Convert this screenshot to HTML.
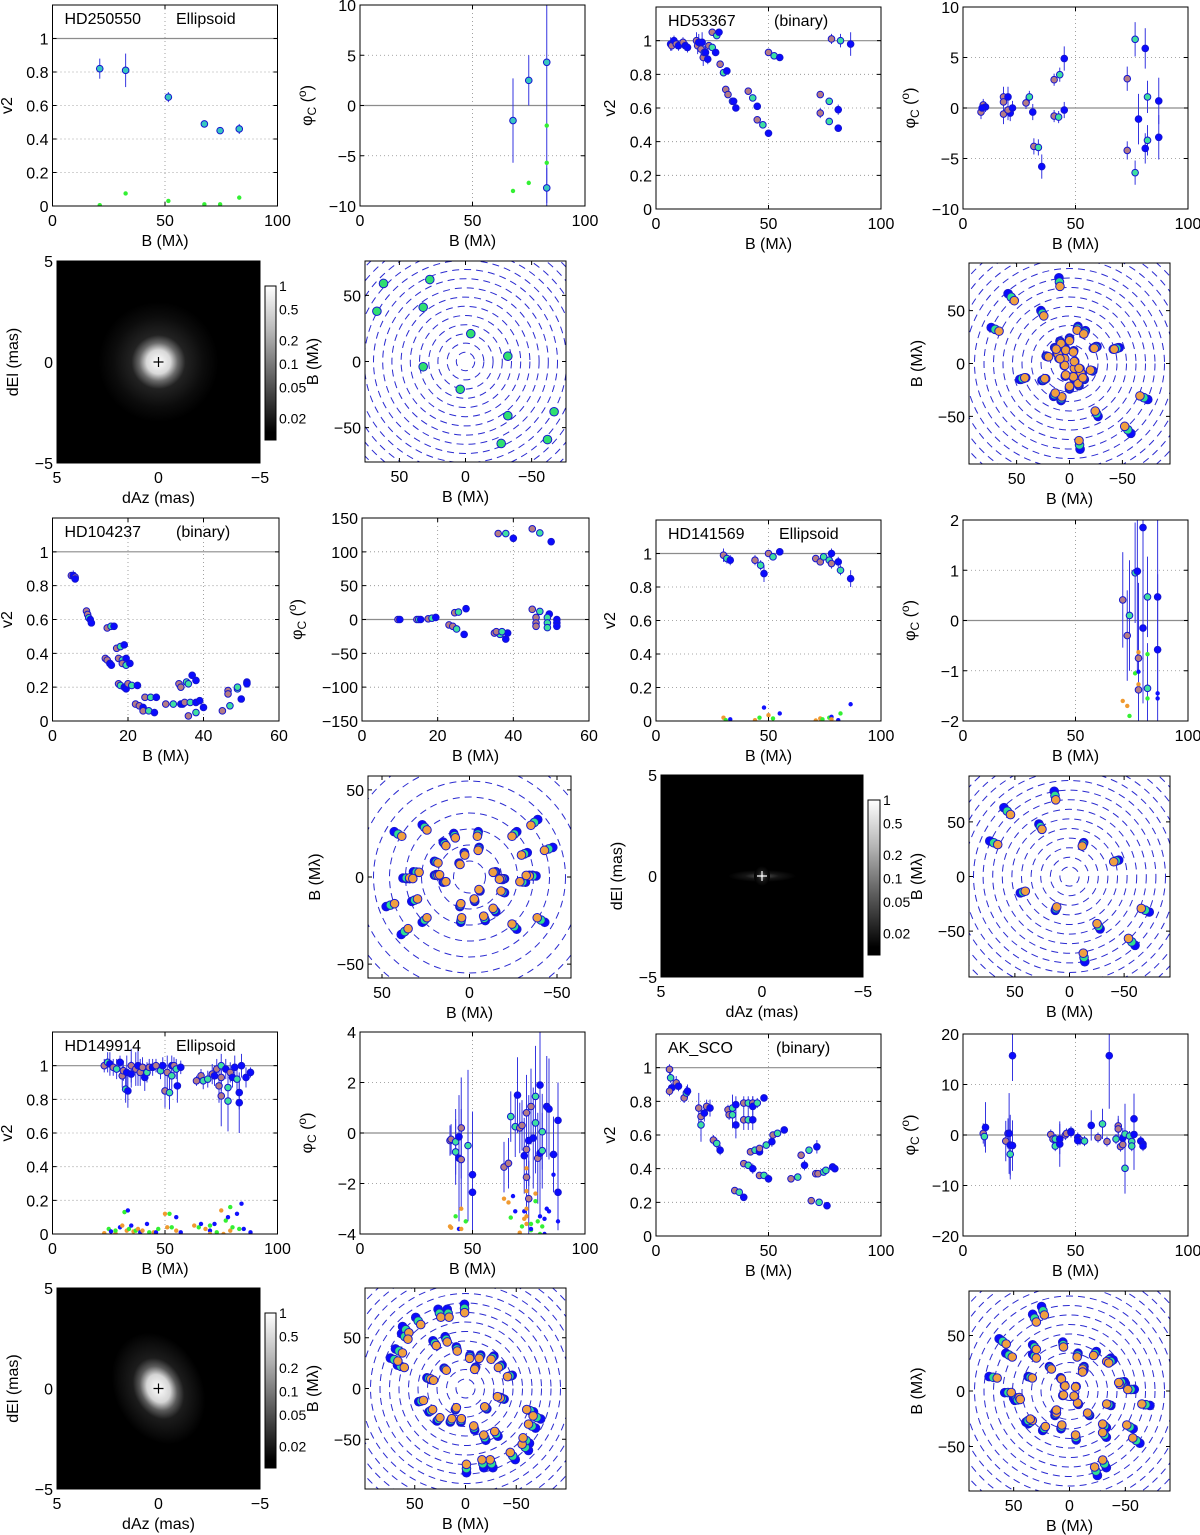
<!DOCTYPE html>
<html><head><meta charset="utf-8">
<style>
html,body{margin:0;padding:0;background:#fff;}
svg{display:block;font-family:"Liberation Sans",Arial,sans-serif;}
</style></head>
<body>
<svg id="fig" width="1200" height="1535" viewBox="0 0 1200 1535" xmlns="http://www.w3.org/2000/svg">
<defs>
<radialGradient id="glowA" cx="0.5" cy="0.5" r="0.5">
<stop offset="0" stop-color="#ffffff"/><stop offset="0.2" stop-color="#d8d8d8"/><stop offset="0.32" stop-color="#6a6a6a"/><stop offset="0.45" stop-color="#222"/><stop offset="0.75" stop-color="#0c0c0c"/><stop offset="1" stop-color="#000"/>
</radialGradient>
<radialGradient id="glowB" cx="0.5" cy="0.5" r="0.5">
<stop offset="0" stop-color="#bbbbbb"/><stop offset="0.15" stop-color="#444"/><stop offset="0.5" stop-color="#151515"/><stop offset="1" stop-color="#000"/>
</radialGradient>
<radialGradient id="glowC" cx="0.5" cy="0.5" r="0.5">
<stop offset="0" stop-color="#ffffff"/><stop offset="0.25" stop-color="#d5d5d5"/><stop offset="0.4" stop-color="#5a5a5a"/><stop offset="0.55" stop-color="#1c1c1c"/><stop offset="0.85" stop-color="#0a0a0a"/><stop offset="1" stop-color="#000"/>
</radialGradient>
<linearGradient id="cbar" x1="0" y1="0" x2="0" y2="1">
<stop offset="0" stop-color="#ffffff"/><stop offset="0.3" stop-color="#b5b5b5"/><stop offset="0.56" stop-color="#6a6a6a"/><stop offset="0.78" stop-color="#2e2e2e"/><stop offset="0.95" stop-color="#000"/><stop offset="1" stop-color="#000"/>
</linearGradient>
</defs>
</svg>
<script>
// ---------------- DATA ----------------
const HD250550_V2=[[21,0.82,0.06,'c'],[32.5,0.81,0.1,'c'],[51.5,0.65,0.03,'c'],[67.5,0.49,0.02,'c'],[74.5,0.45,0.01,'c'],[83,0.46,0.03,'c']];
const HD250550_V2_RES=[[21,0.005,'g'],[32.5,0.075,'g'],[51.5,0.03,'g'],[67.5,0.01,'g'],[74.5,0.01,'g'],[83,0.05,'g']];
const HD250550_CP=[[68,-1.5,4.2,'c'],[75,2.5,2.5,'c'],[83,4.3,14,'c'],[83,-8.2,2,'c']];
const HD250550_CP_RES=[[68,-8.5,'g'],[75,-7.7,'g'],[83,-2,'g'],[83,-5.7,'g']];

const HD53367_V2=[[6.5,0.98,0.04,'b'],[7,0.97,0.03,'p'],[8,1.0,0.03,'b'],[9,0.98,0.03,'p'],[10,0.97,0.03,'b'],[12,0.99,0.03,'p'],[13,0.97,0.03,'b'],[14,0.96,0.03,'b'],
[18,1.0,0.05,'p'],[18.5,0.97,0.05,'p'],[19,0.99,0.05,'b'],[20,0.95,0.06,'p'],[20.5,0.99,0.06,'b'],[21,0.9,0.05,'p'],[21.5,0.93,0.04,'g'],[22,0.93,0.04,'b'],[23,0.89,0.03,'b'],[23.5,0.97,0.02,'p'],[25,0.96,0.02,'g'],[25,1.05,0.02,'p'],[27,1.03,0.02,'g'],[28,1.05,0.02,'b'],[26.5,0.93,0.02,'b'],[28.5,0.86,0.02,'p'],[30,0.81,0.02,'g'],[31.5,0.82,0.02,'b'],[31,0.71,0.02,'p'],[32,0.68,0.02,'p'],[34,0.64,0.02,'g'],[34.5,0.64,0.02,'b'],[35.5,0.6,0.02,'b'],
[41,0.7,0.02,'p'],[43,0.66,0.02,'g'],[45,0.61,0.02,'b'],[45,0.53,0.02,'p'],[47.5,0.5,0.02,'g'],[50,0.45,0.02,'b'],[50,0.93,0.02,'p'],[52.5,0.91,0.02,'g'],[55,0.9,0.02,'b'],
[73,0.68,0.02,'p'],[73,0.57,0.03,'p'],[77,0.64,0.02,'g'],[77,0.52,0.02,'g'],[81,0.59,0.03,'b'],[81,0.48,0.02,'b'],[78,1.01,0.03,'p'],[82,1.0,0.04,'g'],[86.5,0.98,0.07,'b']];
const HD53367_CP=[[8,-0.4,0.7,'p'],[9,0.3,0.6,'p'],[10,0.1,0.5,'b'],[8.5,0.0,0.4,'b'],[18,1.1,1,'p'],[18,0.6,1,'p'],[18,-0.6,1,'p'],[20,1.1,1,'b'],[20,-0.2,1,'b'],[21,-0.5,0.8,'b'],[20,-0.2,0.8,'p'],[22,0,0.7,'b'],[28,0.5,0.6,'p'],[29.5,1.1,0.6,'g'],[31,-0.4,0.8,'b'],
[31.5,-3.8,0.8,'p'],[33.5,-3.9,0.8,'g'],[35,-5.8,1.2,'b'],[40.5,2.8,0.6,'p'],[43,3.3,0.7,'g'],[45,4.9,1.2,'b'],[40.5,-0.8,0.6,'p'],[42.5,-0.9,0.6,'g'],[45,-0.2,0.8,'b'],
[73,2.9,1.2,'p'],[73,-4.2,0.9,'p'],[76.5,6.8,1.7,'g'],[76.5,-6.4,1.2,'g'],[78,-1.1,2.5,'b'],[81,5.9,2,'b'],[81,-4,1.5,'b'],[82,1.1,1.6,'g'],[82,-3.2,1.5,'g'],[87,0.7,2.3,'b'],[87,-2.9,2.2,'b']];

const HD104237_V2=[[5,0.86,0.02,'p'],[5.5,0.86,0.03,'b'],[6,0.85,0.03,'p'],[6,0.84,0.02,'b'],[9,0.65,0.02,'p'],[9.3,0.63,0.02,'p'],[9.6,0.61,0.02,'g'],[10,0.6,0.02,'b'],[10.3,0.58,0.02,'b'],
[14.5,0.55,0.01,'p'],[15.5,0.56,0.01,'g'],[16.3,0.56,0.02,'b'],[17,0.43,0.01,'p'],[18,0.44,0.01,'g'],[19,0.45,0.01,'b'],[14,0.37,0.01,'p'],[14.5,0.36,0.01,'p'],[15.2,0.34,0.01,'b'],[15.6,0.33,0.01,'b'],
[17.5,0.37,0.01,'p'],[18.5,0.36,0.01,'g'],[19.5,0.37,0.01,'b'],[18.5,0.34,0.01,'p'],[19.5,0.33,0.01,'g'],[20.5,0.34,0.01,'b'],[17.5,0.22,0.01,'p'],[18,0.21,0.01,'g'],[19,0.2,0.01,'b'],[19.5,0.19,0.01,'b'],
[20,0.22,0.01,'p'],[21,0.21,0.01,'g'],[22.5,0.21,0.01,'b'],[22,0.1,0.01,'p'],[23,0.09,0.01,'p'],[24,0.08,0.01,'b'],[24,0.06,0.01,'p'],[25.5,0.06,0.01,'g'],[27,0.05,0.01,'b'],[24.5,0.14,0.01,'p'],[26,0.14,0.01,'g'],[27.5,0.14,0.01,'b'],
[30,0.1,0.01,'p'],[32,0.1,0.01,'g'],[34,0.1,0.01,'b'],[34.5,0.1,0.01,'b'],[35,0.11,0.01,'p'],[36.5,0.11,0.01,'g'],[38,0.11,0.01,'b'],[39,0.12,0.01,'b'],
[33.5,0.22,0.01,'p'],[34,0.2,0.01,'p'],[35.5,0.23,0.01,'g'],[36,0.22,0.01,'g'],[37,0.27,0.01,'b'],[38,0.24,0.01,'b'],[36,0.03,0.01,'p'],[38,0.05,0.01,'g'],[40,0.08,0.01,'b'],
[45,0.06,0.01,'p'],[47,0.09,0.01,'g'],[50,0.13,0.01,'b'],[46.5,0.18,0.01,'p'],[46.5,0.16,0.01,'p'],[49,0.19,0.01,'g'],[49,0.2,0.01,'g'],[51.5,0.23,0.01,'b'],[51.5,0.22,0.01,'b']];
const HD104237_CP=[[9.5,0,1,'p'],[10,0,1,'b'],[14.5,0,1,'p'],[15,0,1,'g'],[15.5,0,1,'b'],[17.5,1,1,'p'],[18.5,2,1,'g'],[19.5,3,1,'b'],[24.5,10,1,'p'],[25.5,11,1,'g'],[27.5,16,1,'b'],
[23,-8,1,'p'],[24,-10,1,'p'],[25,-14,1,'g'],[27,-22,1,'b'],[35,-20,1,'p'],[36.5,-22,1,'g'],[38.5,-20,1,'b'],[35.5,-18,1,'p'],[37,-18,1,'g'],[38,-29,1,'b'],
[36,127,1,'p'],[38,127,1,'g'],[40,120,1,'b'],[45,134,1,'p'],[47,128,1,'g'],[50,115,1,'b'],[45,15,1,'p'],[47,12,1,'g'],[49.5,8,1,'b'],
[46,3,1,'p'],[46,-5,1,'p'],[46,-10,1,'p'],[49,3,1,'g'],[49,-5,1,'g'],[49,-12,1,'g'],[51.5,0,1,'b'],[51.5,-5,1,'b'],[51.5,-10,1,'b']];

const HD141569_V2=[[30,0.99,0.04,'p'],[31.5,0.97,0.03,'g'],[33,0.96,0.03,'b'],[44,0.96,0.03,'p'],[46.5,0.93,0.03,'g'],[48,0.88,0.05,'b'],[50,1.0,0.02,'p'],[52,0.98,0.02,'g'],[55,1.01,0.02,'b'],
[71,0.97,0.02,'p'],[73,0.95,0.02,'p'],[74.5,0.98,0.02,'g'],[77,0.96,0.03,'g'],[78,1.0,0.03,'b'],[78,0.94,0.03,'p'],[81,0.95,0.03,'b'],[82,0.9,0.03,'g'],[86.5,0.85,0.05,'b']];
const HD141569_V2_RES=[[30,0.02,'o'],[31,0.005,'g'],[33,0.01,'b'],[44,0.005,'o'],[46,0.02,'g'],[48,0.08,'b'],[50,0.035,'o'],[52,0.015,'g'],[55,0.045,'b'],[71,0.003,'o'],[73,0.015,'o'],[74,0.01,'g'],[77,0.02,'g'],[78,0.025,'b'],[78,0.01,'o'],[81,0.005,'b'],[82,0.045,'g'],[86.5,0.1,'b']];
const HD141569_CP=[[71,0.41,0.95,'p'],[73,-0.3,0.9,'p'],[74,0.1,1.1,'g'],[76.5,0.95,1.0,'g'],[77.5,0.98,2,'b'],[80,1.85,2,'b'],[80,-0.15,1.5,'b'],[78,-0.75,1.5,'p'],[78,-1.38,1.5,'p'],[82,0.47,0.8,'g'],[82,-1.35,0.9,'g'],[86.5,0.47,2,'b'],[86.5,-0.58,1.5,'b']];
const HD141569_CP_RES=[[71,-1.6,'o'],[73,-1.7,'o'],[74,-1.9,'g'],[76.5,-1.05,'g'],[78,-1.02,'b'],[78,-0.63,'o'],[78,-1.27,'o'],[82,-0.67,'g'],[82,-1.55,'g'],[86.5,-1.45,'b'],[86.5,-1.55,'b'],[80,-0.15,'b']];

const HD149914_V2=[[23,1.0,0.04,'p'],[24.5,1.02,0.06,'g'],[25.5,1.01,0.07,'b'],[27,0.99,0.05,'p'],[28.5,0.98,0.06,'g'],[30,1.02,0.04,'b'],[31,0.94,0.07,'p'],[31.5,0.97,0.06,'p'],[32.5,0.86,0.08,'g'],[33.5,0.85,0.1,'b'],[33,0.96,0.1,'b'],[35,1.0,0.1,'p'],[35,0.95,0.08,'b'],[37,0.98,0.1,'p'],[38,1.0,0.12,'b'],[39,0.96,0.08,'p'],[40,0.99,0.06,'p'],[41,0.93,0.08,'b'],[42,0.96,0.06,'g'],[43,0.99,0.05,'p'],[44.5,0.99,0.05,'b'],[46,1.0,0.04,'p'],[48,0.97,0.05,'g'],[49,1.0,0.05,'b'],[50,0.85,0.1,'p'],[51,0.96,0.1,'p'],[52,0.84,0.1,'g'],[53,0.94,0.08,'g'],[53,1.0,0.06,'b'],[54,1.0,0.05,'p'],[55,0.98,0.06,'g'],[55.5,0.88,0.1,'b'],[57,0.99,0.04,'b'],
[64,0.91,0.03,'p'],[66,0.94,0.04,'p'],[67,0.91,0.05,'g'],[69,0.92,0.05,'g'],[71,0.95,0.06,'p'],[72,0.94,0.06,'b'],[73,0.98,0.06,'p'],[75,1.0,0.07,'g'],[75,0.93,0.08,'p'],[74,0.88,0.1,'p'],[75,0.82,0.18,'p'],[78,0.87,0.1,'g'],[78,0.79,0.18,'g'],[77,0.98,0.06,'b'],[79,0.96,0.06,'p'],[80,0.93,0.06,'b'],[81,0.99,0.07,'b'],[82,0.92,0.08,'g'],[83,0.84,0.1,'b'],[83,0.78,0.18,'b'],[84,1.0,0.07,'b'],[86,0.93,0.06,'b'],[88,0.96,0.03,'b']];
const HD149914_V2_RES=[[23,0.0,'g'],[23,0.005,'o'],[25,0.03,'g'],[26,0.015,'b'],[28,0.005,'o'],[28,0.02,'g'],[30,0.04,'b'],[31,0.05,'o'],[32,0.13,'g'],[33.5,0.14,'b'],[33,0.02,'o'],[34,0.03,'g'],[35,0.05,'b'],[36,0.015,'o'],[37,0.02,'g'],[38,0.03,'o'],[39,0.01,'b'],[40,0.02,'o'],[42,0.06,'b'],[43,0.01,'g'],[45,0.01,'o'],[46,0.01,'b'],[47,0.03,'g'],[50,0.12,'o'],[52,0.12,'g'],[51,0.04,'o'],[53,0.04,'g'],[55,0.1,'b'],[55,0.02,'o'],[57,0.01,'b'],
[63,0.05,'o'],[65,0.04,'g'],[66,0.06,'b'],[68,0.03,'o'],[70,0.02,'b'],[70,0.05,'g'],[72,0.06,'b'],[75,0.14,'o'],[77,0.08,'g'],[78,0.1,'b'],[79,0.16,'g'],[79,0.02,'o'],[80,0.04,'g'],[82,0.12,'b'],[84,0.18,'b'],[76,0.0,'o'],[83,0.03,'g'],[85,0.03,'b'],[88,0.01,'b'],[70,0.0,'o'],[73,0.01,'g']];
const HD149914_CP=[[40,-0.3,0.6,'p'],[40.5,-0.25,0.6,'p'],[42.5,-0.35,1.3,'g'],[42.5,-0.75,1.3,'g'],[44,-0.15,1.3,'b'],[44,-1.0,2.5,'b'],[45,0.2,2,'p'],[45,-1.05,2,'p'],[48,-0.5,3,'g'],[50,-2.35,2,'b'],[50,-1.65,2.5,'b'],
[64,-1.35,1,'p'],[66,-1.2,1,'p'],[67,0.65,1,'g'],[69,0.25,1.2,'g'],[70,1.5,1.5,'b'],[71,0.2,1,'p'],[72,0.3,1,'p'],[73,-0.9,1.5,'b'],[74,0.8,1.5,'p'],[74,-0.65,1.5,'p'],[74,-1.75,1.5,'p'],[75,-0.3,1.8,'b'],[75,-2.6,1.5,'p'],[76,1.05,1.5,'p'],[78,1.45,2,'g'],[78,0.4,2,'g'],[77,-0.2,2,'b'],[79,-1.0,1.8,'p'],[80,1.9,2.5,'b'],[80,-0.8,2.5,'b'],[81,0.05,1.5,'g'],[81,-0.7,1.5,'g'],[83,1.05,2,'b'],[84,0.95,2,'b'],[86,-0.85,1.5,'b'],[88,0.5,1.5,'b'],[88,-2.35,1.5,'b']];
const HD149914_CP_RES=[[40,-3.7,'o'],[40.5,-3.75,'o'],[42.5,-3.3,'g'],[44,-3.8,'b'],[45,-3.0,'o'],[45,-3.8,'o'],[47,-3.5,'g'],[64,-2.6,'o'],[66,-2.75,'o'],[67,-3.35,'g'],[68,-2.5,'b'],[69,-3.1,'b'],[71,-3.95,'o'],[72,-3.7,'g'],[73,-3.4,'o'],[73,-3.1,'b'],[74,-3.0,'o'],[74,-3.3,'o'],[74,-3.6,'o'],[74,-2.3,'o'],[74,-1.4,'o'],[76,-3.6,'g'],[76,-3.85,'g'],[76,-3.8,'b'],[78,-2.4,'o'],[78,-2.7,'g'],[79,-3.5,'g'],[80,-3.3,'b'],[81,-3.7,'g'],[82,-3.4,'b'],[83,-3.0,'b'],[84,-3.1,'b'],[86,-1.65,'b'],[88,-3.5,'b'],[80,-4.0,'g'],[82,-4.0,'b']];

const AKSCO_V2=[[6,0.99,0.03,'p'],[6.5,0.94,0.03,'g'],[7,0.88,0.03,'b'],[6,0.86,0.03,'p'],[9,0.91,0.04,'p'],[10,0.89,0.03,'b'],[12.5,0.82,0.03,'p'],[13.5,0.85,0.04,'g'],[14,0.86,0.04,'b'],
[19,0.76,0.09,'p'],[20,0.66,0.1,'g'],[20,0.71,0.06,'p'],[21.5,0.73,0.05,'b'],[22.5,0.77,0.04,'p'],[24,0.76,0.05,'b'],[25.5,0.57,0.03,'p'],[27,0.55,0.03,'g'],[28.5,0.51,0.03,'b'],
[32,0.75,0.03,'p'],[32.5,0.72,0.03,'p'],[34,0.76,0.08,'g'],[34,0.72,0.08,'g'],[35.5,0.78,0.05,'b'],[35.5,0.66,0.08,'b'],[39,0.79,0.04,'p'],[41,0.79,0.04,'g'],[39,0.69,0.06,'p'],[41,0.69,0.06,'g'],[43,0.79,0.04,'p'],[43,0.77,0.06,'b'],[43,0.69,0.06,'b'],[45,0.79,0.03,'g'],[48,0.82,0.02,'b'],
[39,0.43,0.02,'p'],[41,0.42,0.02,'g'],[43,0.4,0.03,'b'],[35,0.27,0.01,'p'],[37,0.26,0.01,'g'],[39,0.23,0.01,'b'],[42,0.5,0.02,'p'],[44,0.51,0.02,'g'],[46,0.5,0.02,'b'],[46,0.52,0.02,'p'],[49,0.54,0.02,'g'],[51.5,0.56,0.03,'b'],[52,0.6,0.02,'p'],[54,0.61,0.02,'g'],[57,0.63,0.02,'b'],
[46,0.36,0.02,'p'],[48,0.36,0.02,'g'],[50,0.34,0.02,'b'],[60,0.34,0.01,'p'],[63,0.35,0.01,'g'],[66,0.42,0.03,'b'],[64.5,0.48,0.02,'p'],[68,0.51,0.02,'g'],[71.5,0.53,0.04,'b'],[69,0.21,0.01,'p'],[72.5,0.2,0.01,'g'],[76,0.18,0.01,'b'],[71,0.37,0.01,'p'],[72,0.37,0.01,'p'],[74.5,0.38,0.01,'g'],[75.5,0.39,0.01,'g'],[78.5,0.41,0.01,'b'],[79.5,0.4,0.01,'b']];
const AKSCO_CP=[[9,0.3,2,'p'],[9.5,-0.3,2,'g'],[10,1.5,5,'b'],[19,-1.2,4,'p'],[20,0.3,3,'p'],[21,-3.8,5,'g'],[21,-2,6,'b'],[20.5,0.3,8,'b'],[22,15.7,5,'b'],[22,-2.1,5,'b'],
[39,0.1,1,'p'],[40,-0.8,1,'p'],[41,-2.2,1,'g'],[41,-0.8,1,'g'],[43,-1.8,4.5,'b'],[43,-0.8,3,'b'],[45.5,0,1,'p'],[46,0.3,1,'p'],[48,0.7,1,'g'],[48,0.5,1,'b'],[51,-0.5,1,'b'],[52,-1.0,1,'p'],[51,-1.1,1,'b'],[54,-1.2,1,'g'],[57,1.9,3,'b'],[62,2.2,3,'g'],[60,-0.5,1,'p'],[64,-1.3,1,'p'],[65,15.7,10.5,'b'],[68,-0.8,1,'g'],
[69,1.8,2,'p'],[69,1.2,2,'p'],[70,-2.3,1,'p'],[71,-1.9,1,'p'],[71,-0.6,2,'b'],[72,0.2,6,'g'],[72,-6.6,5,'g'],[74,-0.2,1,'g'],[76,3.2,5,'b'],[76,0.1,7,'b'],[75,-1.3,1,'g'],[75,-2.2,1,'g'],[79,-1.2,1,'b'],[80,-1.8,1,'b'],[80,-2.2,1,'b']];

const UV_HD250550=[[62,59],[67,38],[27,62],[32,41],[-4,21],[-32,4]];
const UV_HD53367=[[10,81],[58,66],[74,34],[27,50],[-8,35],[-46,15],[-25,16],[47,-15],[26,-16],[15,-31],[8,18],[12,10],[5,5],[-5,2],[-10,-5],[9,21],[4,14],[14,15],[0,24],[-4,12],[22,7]];
const UV_HD104237=[[43,26],[27,30],[-39,33],[-27,26],[-47.6,17],[-33,14],[-38,0.6],[-20,-1],[15,20],[-5,26],[-5.5,17],[9,25],[20,9],[19,1.4],[36,-1],[32,3],[15,-3],[3,14],[6,8]];
const UV_HD141569=[[14,78],[60,63],[28,48],[73,32.5],[-13,31],[-45,15]];
const UV_HD149914=[[1,83],[27,78],[18,78],[49,70],[62,61],[63,54],[69,39],[74,30],[67,23],[32,47],[20,51],[9,41],[21,20],[38,10.5],[-4.5,33],[-15,33],[-28,32],[-36,23],[-46,13],[-10,21],[-35,-9]];
const UV_AKSCO=[[25,76],[33,69],[63,47],[57,34],[72,13],[58,-1.5],[50,-6.6],[33,41.6],[33,33],[37,13],[6,44],[-7.6,34],[-24,35.5],[-37,29.5],[-13,22],[18,22],[8,12],[4.5,5],[-6,4],[-49,8.4],[13,-19],[39,-28]];

const V2_TICKS=[0,0.2,0.4,0.6,0.8,1];
const V2_TICKLABELS=['0','0.2','0.4','0.6','0.8','1'];
const B100_TICKS=[0,50,100];
const B100_LABELS=['0','50','100'];
const B60_TICKS=[0,20,40,60];
const B60_LABELS=['0','20','40','60'];
const CP10_TICKS=[-10,-5,0,5,10];
const CP10_LABELS=['\u221210','\u22125','0','5','10'];
const CP150_TICKS=[-150,-100,-50,0,50,100,150];
const CP150_LABELS=['\u2212150','\u2212100','\u221250','0','50','100','150'];
const CP2_TICKS=[-2,-1,0,1,2];
const CP2_LABELS=['\u22122','\u22121','0','1','2'];
const CP4_TICKS=[-4,-2,0,2,4];
const CP4_LABELS=['\u22124','\u22122','0','2','4'];
const CP20_TICKS=[-20,-10,0,10,20];
const CP20_LABELS=['\u221220','\u221210','0','10','20'];
const UV_TICKS=[-50,0,50];
const UV_LABELS=['\u221250','0','50'];
const IMG_TICKS=[-5,0,5];
const IMG_LABELS=['\u22125','0','5'];
const CBAR_VALUES=[1,0.5,0.2,0.1,0.05,0.02];
const CBAR_LABELS=['1','0.5','0.2','0.1','0.05','0.02'];

// ---------------- DRAWING ----------------
const NS='http://www.w3.org/2000/svg';
const svg=document.getElementById('fig');
const FS=16;
function mk(tag,parent){const e=document.createElementNS(NS,tag);(parent||svg).appendChild(e);return e;}
function at(e,o){for(const k in o)e.setAttribute(k,o[k]);return e;}
const FILL={p:'#b47c84',g:'#3ee0a0',b:'#0a0aff',c:'#38c8c0',o:'#f0a040'};
const DOT={g:'#33f033',o:'#f09a30',b:'#1010ff'};
let clipId=0;

function txt(parent,x,y,s,size,anchor,rot){
  const t=mk('text',parent);
  at(t,{x:x,y:y,'font-size':size||FS,'text-anchor':anchor||'middle',fill:'#000'});
  if(rot) t.setAttribute('transform','rotate(-90 '+x+' '+y+')');
  t.textContent=s;
  return t;
}

function axes(name,box,xr,yr,o){
  const [L,T,R,B]=box;
  const g=mk('g');
  
  
  const sx=v=>o.rev? R-(v-xr[0])/(xr[1]-xr[0])*(R-L) : L+(v-xr[0])/(xr[1]-xr[0])*(R-L);
  const sy=v=>B-(v-yr[0])/(yr[1]-yr[0])*(B-T);
  const bg=mk('rect',g); at(bg,{x:L,y:T,width:R-L,height:B-T,fill:o.bg||'#fff'});
  
  
  if(o.grid){
    (o.xt||[]).forEach(v=>{ if(v>xr[0]&&v<xr[1]){const l=mk('line',g);at(l,{x1:sx(v),x2:sx(v),y1:T,y2:B,stroke:'#8a8a8a','stroke-width':0.8,'stroke-dasharray':'1 3'});}});
    (o.yt||[]).forEach(v=>{ if(v>yr[0]&&v<yr[1]&&v!==o.ref){const l=mk('line',g);at(l,{x1:L,x2:R,y1:sy(v),y2:sy(v),stroke:'#8a8a8a','stroke-width':0.8,'stroke-dasharray':'1 3'});}});
  }
  if(o.ref!==undefined){const l=mk('line',g);at(l,{x1:L,x2:R,y1:sy(o.ref),y2:sy(o.ref),stroke:'#8c8c8c','stroke-width':1.2});
    
    }
  const cp=mk('clipPath',g); const cid='c'+(clipId++); cp.setAttribute('id',cid);
  const cr=mk('rect',cp); at(cr,{x:L,y:T,width:R-L,height:B-T});
  const dg=mk('g',g); dg.setAttribute('clip-path','url(#'+cid+')');
  
  
  const fg=mk('g',g);
  const fr=mk('rect',fg); at(fr,{x:L,y:T,width:R-L,height:B-T,fill:'none',stroke:'#000','stroke-width':1});
  
  
  (o.xt||[]).forEach((v,i)=>{
    const x=sx(v); const tk=mk('path',fg); at(tk,{d:`M${x} ${B}v-4M${x} ${T}v4`,stroke:'#000','stroke-width':1});
    const t=txt(fg,x,B+20,o.xl[i],FS,'middle');
    
    
  });
  (o.yt||[]).forEach((v,i)=>{
    const y=sy(v); const tk=mk('path',fg); at(tk,{d:`M${L} ${y}h4M${R} ${y}h-4`,stroke:'#000','stroke-width':1});
    const t=txt(fg,L-4,y+6,o.yl[i],FS,'end');
    
    
  });
  if(o.xtitle){const t=txt(fg,(L+R)/2,B+40,o.xtitle,FS,'middle');
    
    }
  if(o.ytitle==='v2'){const t=txt(fg,o.ytx,(T+B)/2,'v2',FS,'middle',true);
    
    }
  else if(o.ytitle==='phi'){
    const x=o.ytx,y=(T+B)/2; const t=mk('text',fg);
    at(t,{x:x,y:y,'font-size':FS,'text-anchor':'middle',transform:'rotate(-90 '+x+' '+y+')'});
    
    
    const a=mk('tspan',t); a.textContent='\u03C6';
    const b=mk('tspan',t); at(b,{'font-size':12,dy:4}); b.textContent='C';
    const c=mk('tspan',t); at(c,{dy:-4}); c.textContent=' (';
    const d=mk('tspan',t); at(d,{'font-size':12,dy:-6}); d.textContent='o';
    const e=mk('tspan',t); at(e,{dy:6}); e.textContent=')';
  } else if(o.ytitle){const t=txt(fg,o.ytx,(T+B)/2,o.ytitle,FS,'middle',true);
    
    }
  return {sx,sy,dg,fg,box};
}

function series(ax,data,r){
  data.forEach(d=>{
    const x=ax.sx(d[0]);
    const l=mk('line',ax.dg); at(l,{x1:x,x2:x,y1:ax.sy(d[1]-d[2]),y2:ax.sy(d[1]+d[2]),stroke:'#3535e0','stroke-width':1});
    
    
  });
  data.forEach(d=>{
    const c=mk('circle',ax.dg); at(c,{cx:ax.sx(d[0]),cy:ax.sy(d[1]),r:r||3.3,fill:FILL[d[3]],stroke:'#1515d0','stroke-width':1});
    
    
  });
}
function dots(ax,data){
  data.forEach(d=>{
    const c=mk('circle',ax.dg); at(c,{cx:ax.sx(d[0]),cy:ax.sy(d[1]),r:2.2,fill:DOT[d[2]]});
    
    
  });
}
function title(ax,name,kind,kx){
  const [L,T]=ax.box;
  const t1=txt(ax.fg,L+12,T+19,name,FS,'start');
  
  
  const t2=txt(ax.fg,kx,T+19,kind,FS,'start');
  
  
}

function v2panel(name,box,xr,xt,xl,ytx){
  return axes(name,box,xr,[0,1.2],{grid:true,ref:1,xt:xt,xl:xl,yt:V2_TICKS,yl:V2_TICKLABELS,xtitle:'B (M\u03BB)',ytitle:'v2',ytx:ytx});
}
function cppanel(name,box,xr,yr,xt,xl,yt,yl,ytx){
  return axes(name,box,xr,yr,{grid:true,ref:0,xt:xt,xl:xl,yt:yt,yl:yl,xtitle:'B (M\u03BB)',ytitle:'phi',ytx:ytx});
}
function uvpanel(name,box,lim,data,ringPx,facs,cols,ytx){
  const ax=axes(name,box,[-lim,lim],[-lim,lim],{rev:true,grid:false,xt:UV_TICKS,xl:UV_LABELS,yt:UV_TICKS,yl:UV_LABELS,xtitle:'B (M\u03BB)',ytitle:'B (M\u03BB)',ytx:ytx});
  const cx=ax.sx(0),cy=ax.sy(0);
  for(let rr=ringPx;rr<200;rr+=ringPx){
    const c=mk('circle',ax.dg); at(c,{cx:cx,cy:cy,r:rr,fill:'none',stroke:'#2a2ad0','stroke-width':1,'stroke-dasharray':'7 5'});
    
    
  }
  facs.forEach((f,k)=>{
    data.forEach(d=>{[1,-1].forEach(s=>{
      const c=mk('circle',ax.dg); at(c,{cx:ax.sx(s*d[0]*f),cy:ax.sy(s*d[1]*f),r:4.3,fill:cols[k],stroke:'#1a1ad0','stroke-width':1});
      
      
    });});
  });
  return ax;
}
function imgpanel(name,box,cbar,glow){
  const ax=axes(name,box,[-5,5],[-5,5],{rev:true,bg:'#000',xt:IMG_TICKS,xl:IMG_LABELS,yt:IMG_TICKS,yl:IMG_LABELS,xtitle:'dAz (mas)',ytitle:'dEl (mas)',ytx:box[0]-39});
  const [L,T,R,B]=box; const cx=(L+R)/2, cy=(T+B)/2;
  glow.forEach(gp=>{
    const e=mk('ellipse',ax.dg); at(e,{cx:cx,cy:cy,rx:gp.rx,ry:gp.ry,fill:'url(#'+gp.id+')',transform:`rotate(${gp.rot||0} ${cx} ${cy})`});
    
    
  });
  const cr=mk('path',ax.dg); at(cr,{d:`M${cx-5} ${cy}h10M${cx} ${cy-5}v10`,stroke:glow[0].cross,'stroke-width':1.2});
  
  
  const [cL,cT,cR,cB]=cbar;
  const cg=mk('g');
  
  
  const rb=mk('rect',cg); at(rb,{x:cL,y:cT,width:cR-cL,height:cB-cT,fill:'url(#cbar)',stroke:'#000','stroke-width':1});
  CBAR_VALUES.forEach((v,i)=>{
    const y=cT+(cB-cT)*Math.min(0.86,Math.log10(1/v)*0.506);
    const t=txt(cg,cR+3,y+5,CBAR_LABELS[i],14,'start');
    
    
  });
}

let a;
a=v2panel('hd250550-v2-plot',[52.5,5,277.5,206],[0,100],B100_TICKS,B100_LABELS,12);
series(a,HD250550_V2,3.3); dots(a,HD250550_V2_RES); title(a,'HD250550','Ellipsoid',176);
a=cppanel('hd250550-closure-phase-plot',[360,5,585,206],[0,100],[-10,10],B100_TICKS,B100_LABELS,CP10_TICKS,CP10_LABELS,312);
series(a,HD250550_CP,3.3); dots(a,HD250550_CP_RES);
a=v2panel('hd53367-v2-plot',[656,7,881,209],[0,100],B100_TICKS,B100_LABELS,615);
series(a,HD53367_V2,3.3); title(a,'HD53367','(binary)',774);
a=cppanel('hd53367-closure-phase-plot',[963,7,1188,209],[0,100],[-10,10],B100_TICKS,B100_LABELS,CP10_TICKS,CP10_LABELS,915);
series(a,HD53367_CP,3.3);
imgpanel('hd250550-model-image',[57,261,260,463],[265,286,276,440],[{id:'glowA',rx:60,ry:60,cross:'#000'}]);
uvpanel('hd250550-uv-coverage',[365,261,566,462],76,UV_HD250550,9.2,[1],['#30e070'],318);
uvpanel('hd53367-uv-coverage',[969,263,1170,464],95,UV_HD53367,9.5,[1,0.95,0.9],['#0a0aff','#30e090','#f0a040'],922);
a=v2panel('hd104237-v2-plot',[52.5,518,279,721],[0,60],B60_TICKS,B60_LABELS,12);
series(a,HD104237_V2,3.3); title(a,'HD104237','(binary)',176);
a=cppanel('hd104237-closure-phase-plot',[362,518,589,721],[0,60],[-150,150],B60_TICKS,B60_LABELS,CP150_TICKS,CP150_LABELS,302);
series(a,HD104237_CP,3.3);
a=v2panel('hd141569-v2-plot',[656,520,881,721],[0,100],B100_TICKS,B100_LABELS,615);
dots(a,HD141569_V2_RES); series(a,HD141569_V2,3.3); title(a,'HD141569','Ellipsoid',779);
a=cppanel('hd141569-closure-phase-plot',[963,520,1188,721],[0,100],[-2,2],B100_TICKS,B100_LABELS,CP2_TICKS,CP2_LABELS,915);
series(a,HD141569_CP,3.3); dots(a,HD141569_CP_RES);
uvpanel('hd104237-uv-coverage',[368,776,571,978],58,UV_HD104237,16,[1,0.95,0.9],['#0a0aff','#30e090','#f0a040'],320);
imgpanel('hd141569-model-image',[661,775,863,977],[868,800,880,955],[{id:'glowB',rx:34,ry:6,cross:'#fff'},{id:'glowB',rx:8,ry:10,cross:'#fff'}]);
uvpanel('hd141569-uv-coverage',[969,776,1170,977],92,UV_HD141569,9.6,[1,0.95,0.9],['#0a0aff','#30e090','#f0a040'],922);
a=v2panel('hd149914-v2-plot',[52.5,1032,277.5,1234],[0,100],B100_TICKS,B100_LABELS,12);
dots(a,HD149914_V2_RES); series(a,HD149914_V2,3.3); title(a,'HD149914','Ellipsoid',176);
a=cppanel('hd149914-closure-phase-plot',[360,1032,585,1234],[0,100],[-4,4],B100_TICKS,B100_LABELS,CP4_TICKS,CP4_LABELS,312);
series(a,HD149914_CP,3.3); dots(a,HD149914_CP_RES);
a=v2panel('aksco-v2-plot',[656,1034,881,1236],[0,100],B100_TICKS,B100_LABELS,615);
series(a,AKSCO_V2,3.3); title(a,'AK_SCO','(binary)',776);
a=cppanel('aksco-closure-phase-plot',[963,1034,1188,1236],[0,100],[-20,20],B100_TICKS,B100_LABELS,CP20_TICKS,CP20_LABELS,915);
series(a,AKSCO_CP,3.3);
imgpanel('hd149914-model-image',[57,1288,260,1489],[265,1313,276,1468],[{id:'glowC',rx:44,ry:58,rot:-25,cross:'#000'}]);
uvpanel('hd149914-uv-coverage',[365,1288,566,1489],99,UV_HD149914,9.5,[1,0.95,0.9],['#0a0aff','#30e090','#f0a040'],318);
uvpanel('aksco-uv-coverage',[969,1291,1170,1491],90,UV_AKSCO,9.5,[1,0.95,0.9],['#0a0aff','#30e090','#f0a040'],922);
</script>
</body></html>
